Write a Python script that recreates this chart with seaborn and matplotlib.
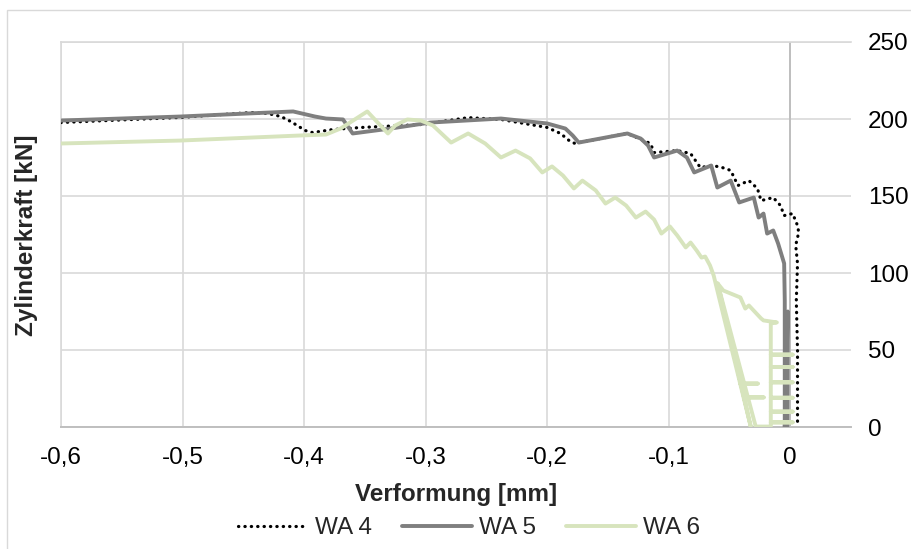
import matplotlib
matplotlib.use("Agg")
import matplotlib.pyplot as plt
from matplotlib.patches import Rectangle
from matplotlib.lines import Line2D
from matplotlib.ticker import FuncFormatter
import seaborn as sns
import pandas as pd

# Kraft-Verformungs-Kurven der Wegaufnehmer WA 4 .. WA 6
wa4_x = [-0.600, -0.502, -0.444, -0.430, -0.419, -0.411, -0.399, -0.393, -0.376, -0.353,
         -0.304, -0.265, -0.238, -0.200, -0.189, -0.181, -0.177, -0.174, -0.134, -0.115,
         -0.112, -0.093, -0.082, -0.074, -0.064, -0.056, -0.049, -0.043, -0.034, -0.027,
         -0.024, -0.014, -0.008, -0.005, 0.002, 0.006, 0.007, 0.0045, 0.006, 0.005,
         0.006, 0.006]
wa4_y = [197.7, 201.0, 204.2, 203.6, 201.6, 198.4, 192.5, 191.2, 193.2, 194.5,
         196.4, 200.9, 199.7, 194.5, 190.6, 185.4, 184.1, 184.7, 190.6, 184.1,
         178.2, 179.5, 177.6, 168.5, 169.8, 168.5, 166.6, 156.8, 160.0, 154.9,
         147.0, 149.0, 143.8, 137.3, 138.6, 130.8, 126.3, 118.0, 106.2, 82.0,
         49.7, 0.0]

wa5_x = [-0.600, -0.502, -0.409, -0.391, -0.382, -0.368, -0.360, -0.329, -0.296, -0.238,
         -0.200, -0.185, -0.179, -0.174, -0.134, -0.123, -0.117, -0.112, -0.093, -0.085,
         -0.079, -0.065, -0.060, -0.049, -0.042, -0.030, -0.026, -0.022, -0.019, -0.014,
         -0.010, -0.007, -0.005, -0.0045, -0.0045, -0.0045, -0.002, -0.0025, -0.0045]
wa5_y = [199.0, 201.6, 204.9, 201.6, 200.3, 199.7, 190.6, 193.8, 197.7, 200.3,
         197.1, 193.8, 189.3, 184.7, 190.6, 187.3, 182.8, 175.0, 179.5, 175.0,
         165.3, 169.8, 155.5, 160.0, 145.8, 149.0, 136.0, 138.6, 125.6, 127.6,
         119.2, 111.4, 106.2, 82.0, 49.7, 0.0, 75.0, 0.0, 40.0]

wa6_x = [-0.600, -0.502, -0.403, -0.382, -0.370, -0.348, -0.331, -0.325, -0.315, -0.304,
         -0.294, -0.279, -0.265, -0.251, -0.238, -0.226, -0.214, -0.204, -0.196, -0.187,
         -0.178, -0.171, -0.160, -0.152, -0.144, -0.135, -0.127, -0.119, -0.112, -0.106,
         -0.099, -0.093, -0.086, -0.082, -0.077, -0.073, -0.070, -0.066, -0.063,
         # Entlastung / Wiederbelastung
         -0.0412, -0.0267, -0.0412, -0.0325, -0.0597, -0.0348, -0.0218, -0.0348, -0.0284,
         -0.016,
         -0.016, 0.002, -0.016, -0.016, 0.002, -0.016, -0.016, 0.002, -0.016,
         -0.016, 0.002, -0.016, -0.016, 0.002, -0.016, -0.016, 0.002, -0.016,
         -0.016,
         -0.011, -0.022, -0.024, -0.034, -0.037, -0.041, -0.055, -0.0597]
wa6_y = [184.1, 186.0, 189.3, 189.9, 193.8, 204.9, 190.6, 195.8, 199.7, 199.0,
         195.8, 184.7, 190.6, 184.1, 175.0, 179.5, 174.4, 165.3, 169.2, 163.3,
         154.9, 160.0, 153.6, 145.1, 149.0, 143.8, 136.0, 139.9, 134.7, 125.6,
         130.2, 124.4, 116.6, 119.8, 114.6, 110.0, 110.7, 104.9, 98.4,
         28.2, 28.2, 28.2, 0.3, 93.2, 19.2, 19.2, 19.2, 0.3,
         0.3,
         3.0, 3.0, 3.0, 10.0, 10.0, 10.0, 19.0, 19.0, 19.0,
         29.0, 29.0, 29.0, 39.0, 39.0, 39.0, 47.0, 47.0, 47.0,
         67.2,
         67.9, 69.2, 70.5, 78.9, 76.9, 84.1, 88.6, 93.2]

x_ticks = [-0.6, -0.5, -0.4, -0.3, -0.2, -0.1, 0.0]
y_ticks = [0, 50, 100, 150, 200, 250]

c_wa4 = "#000000"
c_wa5 = "#7f7f7f"
c_wa6 = "#d7e4bd"
grid_c = "#d9d9d9"
axis_c = "#bfbfbf"
fs = 17.5

sns.set_theme(style="white")
plt.rcParams["font.family"] = ["Liberation Sans", "DejaVu Sans"]

fig = plt.figure(figsize=(9.12, 5.49), dpi=100)
ax = fig.add_axes([61 / 912, (549 - 427) / 549, 790 / 912, 385 / 549])

# Rahmen des Diagrammbereichs
fig.patches.append(Rectangle((7 / 912, -0.2), 1.2, (549 - 10) / 549 + 0.2,
                             transform=fig.transFigure, fill=False,
                             edgecolor=grid_c, linewidth=1.0, zorder=0))

df4 = pd.DataFrame({"x": wa4_x, "y": wa4_y})
df5 = pd.DataFrame({"x": wa5_x, "y": wa5_y})
df6 = pd.DataFrame({"x": wa6_x, "y": wa6_y})

sns.lineplot(data=df4, x="x", y="y", ax=ax, sort=False, estimator=None,
             color=c_wa4, linewidth=2.3, linestyle=(0, (0.1, 1.9)),
             dash_capstyle="round", zorder=3)
sns.lineplot(data=df5, x="x", y="y", ax=ax, sort=False, estimator=None,
             color=c_wa5, linewidth=2.8, solid_joinstyle="round", zorder=4)
sns.lineplot(data=df6, x="x", y="y", ax=ax, sort=False, estimator=None,
             color=c_wa6, linewidth=2.8, solid_joinstyle="round", zorder=5)

ax.set_xlim(-0.6, 0.05)
ax.set_ylim(0, 250)
ax.set_xticks(x_ticks)
ax.set_yticks(y_ticks)
ax.xaxis.set_major_formatter(FuncFormatter(lambda v, p: ("%g" % round(v, 2)).replace(".", ",")))
ax.yaxis.tick_right()
ax.tick_params(axis="both", length=0, labelsize=fs, colors="#000000")
ax.tick_params(axis="x", pad=14.5)
ax.tick_params(axis="y", pad=12)

ax.grid(True, color=grid_c, linewidth=1.2)
ax.axvline(0, color=axis_c, linewidth=1.4, zorder=2)
for side in ["left", "top"]:
    ax.spines[side].set_visible(True)
    ax.spines[side].set_color(grid_c)
    ax.spines[side].set_linewidth(1.2)
ax.spines["right"].set_visible(False)
ax.spines["bottom"].set_color(axis_c)
ax.spines["bottom"].set_linewidth(1.4)

ax.set_xlabel("Verformung [mm]", fontsize=fs, fontweight="bold", labelpad=10)
ax.set_ylabel("")
fig.text(27 / 912, 1 - 235 / 549, "Zylinderkraft [kN]", rotation=90,
         ha="center", va="center", fontsize=fs, fontweight="bold")

handles = [
    Line2D([], [], color=c_wa4, linewidth=2.3, linestyle=(0, (0.1, 1.9)), dash_capstyle="round"),
    Line2D([], [], color=c_wa5, linewidth=2.8),
    Line2D([], [], color=c_wa6, linewidth=2.8),
]
fig.legend(handles, ["WA 4", "WA 5", "WA 6"], loc="center",
           bbox_to_anchor=(469 / 912, (549 - 528) / 549), ncol=3, frameon=False,
           fontsize=fs, handlelength=2.9, columnspacing=1.2, handletextpad=0.3)

fig.canvas.draw()
for t in ax.yaxis.get_major_ticks():
    t.label2.set_horizontalalignment("left")

fig.savefig("out.png", dpi=100)
